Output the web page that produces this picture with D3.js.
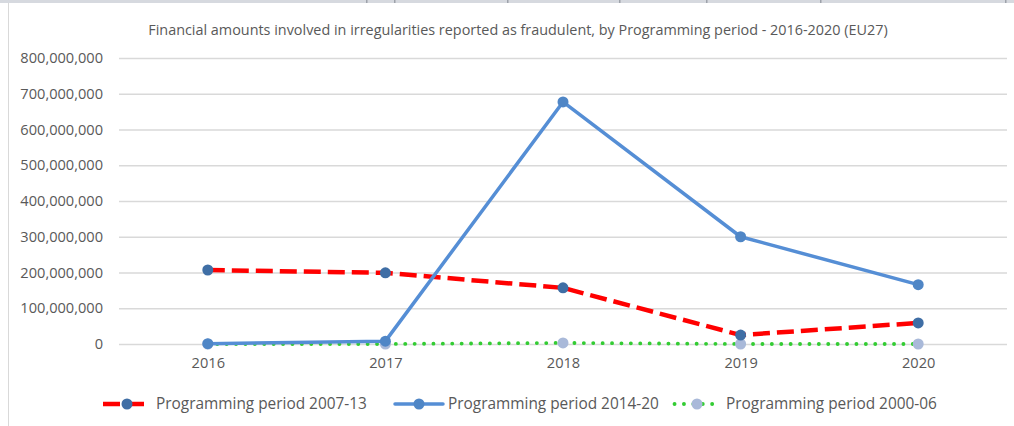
<!DOCTYPE html>
<html>
<head>
<meta charset="utf-8">
<script src="https://cdn.jsdelivr.net/npm/d3@7"></script>
<style>
  body { margin: 0; background: #fff; }
  text { font-family: "Open Sans", sans-serif; fill: #595959; }
</style>
</head>
<body>
<div id="chart"></div>
<script>
const years = ['2016', '2017', '2018', '2019', '2020'];
const period0713 = [207000000, 199000000, 157000000, 25000000, 59000000];
const period1420 = [1000000, 8000000, 677000000, 300000000, 166000000];
const period0006 = [0, 0, 3000000, 0, 0];
const yTicks = [0, 100000000, 200000000, 300000000, 400000000, 500000000, 600000000, 700000000, 800000000];
const seriesNames = ['Programming period 2007-13', 'Programming period 2014-20', 'Programming period 2000-06'];

const width = 1014;
const height = 426;
const plotLeft = 119;
const plotRight = 1007;
const plotTop = 58;
const plotBottom = 344;

const svg = d3.select('#chart')
    .append('svg')
    .attr('width', width)
    .attr('height', height);

// frame bits
svg.append('rect')
    .attr('x', 0).attr('y', 0)
    .attr('width', width).attr('height', 3)
    .attr('fill', '#d6d9df');
svg.append('line')
    .attr('x1', 8.5).attr('x2', 8.5)
    .attr('y1', 3).attr('y2', height)
    .attr('stroke', '#d9d9d9');
[366, 394, 507, 619, 706, 820, 1005].forEach(x => {
    svg.append('rect')
        .attr('x', x).attr('y', 0)
        .attr('width', 1.5).attr('height', 3)
        .attr('fill', '#9da2aa');
});

const x = d3.scalePoint()
    .domain(years)
    .range([plotLeft, plotRight])
    .padding(0.5);

const y = d3.scaleLinear()
    .domain([0, 800000000])
    .range([plotBottom, plotTop]);

// title
svg.append('text')
    .attr('x', 518)
    .attr('y', 35)
    .attr('text-anchor', 'middle')
    .style('font-size', '14.4px')
    .text('Financial amounts involved in irregularities reported as fraudulent, by Programming period - 2016-2020 (EU27)');

// gridlines
const yAxis = d3.axisLeft(y)
    .tickValues(yTicks)
    .tickSize(-(plotRight - plotLeft))
    .tickPadding(16)
    .tickFormat(d3.format(','));

const yG = svg.append('g')
    .attr('transform', `translate(${plotLeft},0)`)
    .call(yAxis);
yG.select('.domain').remove();
yG.selectAll('line').attr('stroke', '#d9d9d9').attr('stroke-width', 1.3);
yG.selectAll('text')
    .style('font-size', '14.6px')
    .style('font-family', '"Open Sans", sans-serif')
    .attr('fill', '#595959');

const xAxis = d3.axisBottom(x).tickSize(0).tickPadding(14);
const xG = svg.append('g')
    .attr('transform', `translate(0,${plotBottom})`)
    .call(xAxis);
xG.select('.domain').remove();
xG.selectAll('text')
    .style('font-size', '14.6px')
    .style('font-family', '"Open Sans", sans-serif')
    .attr('fill', '#595959');

const line = d3.line()
    .x((d, i) => x(years[i]))
    .y(d => y(d));

const series = [
    { values: period0006, stroke: '#33cc33', width: 3.8, dash: '0.1 9.3', cap: 'round', marker: '#a9b9d9' },
    { values: period0713, stroke: '#ff0000', width: 4.5, dash: '17 7', cap: 'butt', marker: '#3f6ea5' },
    { values: period1420, stroke: '#558ed5', width: 3.5, dash: null, cap: 'round', marker: '#4f86c6' }
];

series.forEach(s => {
    svg.append('path')
        .datum(s.values)
        .attr('d', line)
        .attr('fill', 'none')
        .attr('stroke', s.stroke)
        .attr('stroke-width', s.width)
        .attr('stroke-linecap', s.cap)
        .attr('stroke-linejoin', 'round')
        .attr('stroke-dasharray', s.dash);
    svg.selectAll(null)
        .data(s.values)
        .enter()
        .append('circle')
        .attr('cx', (d, i) => x(years[i]))
        .attr('cy', d => y(d))
        .attr('r', 5.5)
        .attr('fill', s.marker);
});

// legend
const legendItems = [
    { name: seriesNames[0], x: 103, s: series[1] },
    { name: seriesNames[1], x: 395, s: series[2] },
    { name: seriesNames[2], x: 673, s: series[0] }
];
const legendY = 404;
legendItems.forEach(item => {
    const g = svg.append('g').attr('transform', `translate(${item.x},${legendY})`);
    g.append('line')
        .attr('x1', item.s.dash === '0.1 9.3' ? 1.5 : 0).attr('x2', 48)
        .attr('y1', 0).attr('y2', 0)
        .attr('stroke', item.s.stroke)
        .attr('stroke-width', item.s.width)
        .attr('stroke-linecap', item.s.cap)
        .attr('stroke-dasharray', item.s.dash);
    g.append('circle')
        .attr('cx', 24).attr('cy', 0)
        .attr('r', 5.5)
        .attr('fill', item.s.marker);
    g.append('text')
        .attr('x', 53)
        .attr('y', 0)
        .attr('dy', '0.35em')
        .style('font-size', '15.4px')
        .text(item.name);
});
</script>
</body>
</html>
